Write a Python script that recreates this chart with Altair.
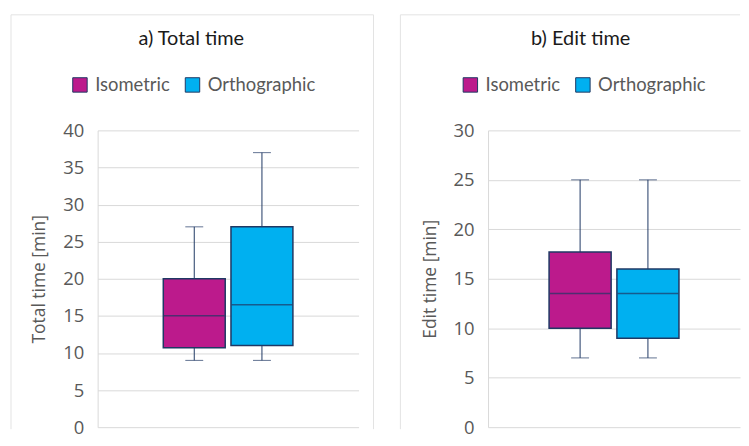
import altair as alt
import pandas as pd

groups = ["Isometric", "Orthographic"]

total_min = [9, 9]
total_q1 = [10.7, 11]
total_median = [15, 16.5]
total_q3 = [20, 27]
total_max = [27, 37]

edit_min = [7, 7]
edit_q1 = [10, 9]
edit_median = [13.5, 13.5]
edit_q3 = [17.7, 16]
edit_max = [25, 25]

colors = ["#BC1A8C", "#00B0F0"]
STROKE = "#1F3864"
BORDER = "#E3E3E3"
H = 298


def panel(title, ytitle, ymax, mins, q1s, meds, q3s, maxs, border_right, title_x, width,
          pad_outer):
    df = pd.DataFrame(dict(group=groups, lo=mins, q1=q1s, med=meds, q3=q3s, hi=maxs))
    base = alt.Chart(df)
    x = alt.X("group:N", axis=None,
              scale=alt.Scale(domain=groups, paddingInner=0.085, paddingOuter=pad_outer))
    ys = alt.Scale(domain=[0, ymax], nice=False, zero=True)
    yaxis = alt.Axis(values=list(range(0, ymax + 1, 5)), grid=True)

    def Y(f):
        return alt.Y(f, scale=ys, axis=yaxis, title=ytitle)

    whisk = base.mark_rule(color=STROKE, strokeWidth=1).encode(x=x, y=Y("lo:Q"), y2="hi:Q")
    box = base.mark_bar(stroke=STROKE, strokeWidth=1.5).encode(
        x=x, y=Y("q1:Q"), y2="q3:Q",
        color=alt.Color("group:N", scale=alt.Scale(domain=groups, range=colors),
                        legend=alt.Legend(orient="none", legendX=-27, legendY=-55,
                                          direction="horizontal", title=None,
                                          symbolType="square", symbolSize=210,
                                          symbolStrokeColor=STROKE, symbolStrokeWidth=1,
                                          labelFont="Lato", labelFontSize=18.5,
                                          labelColor="#595959", labelOffset=6,
                                          columnPadding=13)))
    med = base.mark_tick(color=STROKE, thickness=1.5, size=61).encode(x=x, y=Y("med:Q"))
    cap_lo = base.mark_tick(color=STROKE, thickness=1, size=18).encode(x=x, y=Y("lo:Q"))
    cap_hi = base.mark_tick(color=STROKE, thickness=1, size=18).encode(x=x, y=Y("hi:Q"))

    one = alt.Chart(alt.Data(values=[{}]))
    ttl = one.mark_text(text=title, font="Lato", fontSize=20, color="#1A1A1A",
                        baseline="middle", align="center").encode(
        x=alt.value(title_x), y=alt.value(-92))
    left = -87 if border_right else -88
    right = 277 if border_right else width
    top_line = one.mark_rule(color=BORDER, strokeWidth=1).encode(
        x=alt.value(left), x2=alt.value(right), y=alt.value(-116))
    left_line = one.mark_rule(color=BORDER, strokeWidth=1).encode(
        x=alt.value(left), y=alt.value(-116), y2=alt.value(300))
    layers = [top_line, left_line]
    if border_right:
        layers.append(one.mark_rule(color=BORDER, strokeWidth=1).encode(
            x=alt.value(right), y=alt.value(-116), y2=alt.value(300)))
    layers += [ttl, whisk, box, med, cap_lo, cap_hi]
    return alt.layer(*layers).properties(width=width, height=H)


p1 = panel("a) Total time", "Total time [min]", 40, total_min, total_q1, total_median,
           total_q3, total_max, True, 94, 262, 0.97)
p2 = panel("b) Edit time", "Edit time [min]", 30, edit_min, edit_q1, edit_median,
           edit_q3, edit_max, False, 93, 253, 0.9)

chart = alt.hconcat(p1, p2, spacing=25).resolve_legend(color="independent").properties(
    padding={"left": 2, "top": 5, "right": 0, "bottom": 0}
).configure_view(stroke=None).configure_axis(
    labelFont="Open Sans", labelFontSize=18.5, labelColor="#595959",
    titleFont="Open Sans", titleFontSize=17.5, titleColor="#595959", titleFontWeight="normal",
    domainColor="#D9D9D9", gridColor="#D9D9D9", ticks=False,
    labelPadding=14, titlePadding=14,
)

chart.save("out.html", embed_options={"renderer": "svg", "actions": False})
